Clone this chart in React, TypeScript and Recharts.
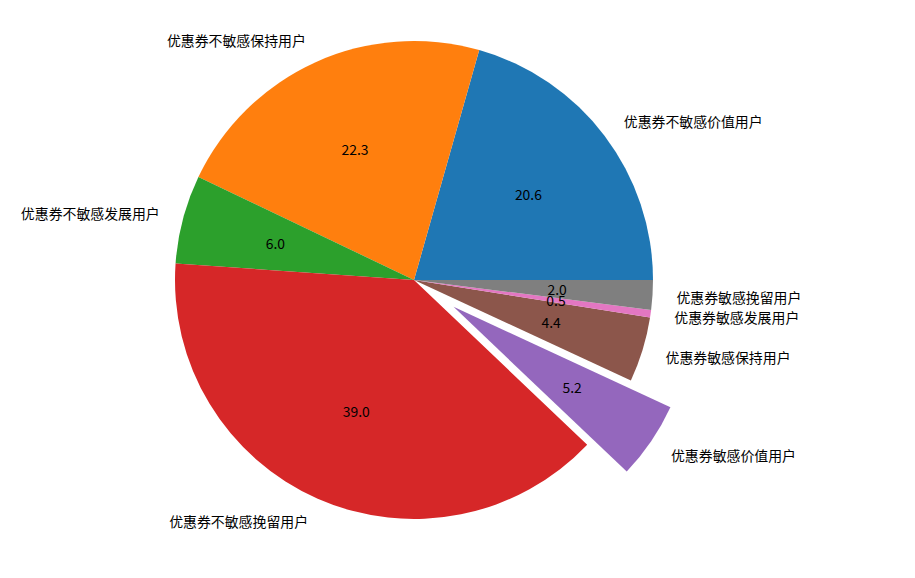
import React from "react";
import { PieChart, Pie, Cell } from "recharts";

const NAMES = [
  "优惠券不敏感价值用户",
  "优惠券不敏感保持用户",
  "优惠券不敏感发展用户",
  "优惠券不敏感挽留用户",
  "优惠券敏感价值用户",
  "优惠券敏感保持用户",
  "优惠券敏感发展用户",
  "优惠券敏感挽留用户",
];

const VALUES = [20.6, 22.3, 6.0, 39.0, 5.2, 4.4, 0.5, 2.0];

const EXPLODE = [0, 0, 0, 0, 0.2, 0, 0, 0];

const COLORS = [
  "#1f77b4",
  "#ff7f0e",
  "#2ca02c",
  "#d62728",
  "#9467bd",
  "#8c564b",
  "#e377c2",
  "#7f7f7f",
];

const data = NAMES.map((name, i) => ({ name, value: VALUES[i] }));

const RADIAN = Math.PI / 180;
const CX = 414;
const CY = 280;
const R = 239;
const FONT = "'Noto Sans CJK SC', 'Noto Sans', sans-serif";

// index of the pulled-out slice and its offset along the slice's mid angle
const EXP_INDEX = EXPLODE.findIndex((e) => e > 0);
const total = VALUES.reduce((a, b) => a + b, 0);
const before = VALUES.slice(0, EXP_INDEX).reduce((a, b) => a + b, 0);
const expMid = ((before + VALUES[EXP_INDEX] / 2) / total) * 360;
const expDx = EXPLODE[EXP_INDEX] * R * Math.cos(expMid * RADIAN);
const expDy = -EXPLODE[EXP_INDEX] * R * Math.sin(expMid * RADIAN);

const makeLabel = (show: (i: number) => boolean) => (props: any) => {
  const { cx, cy, midAngle, outerRadius, index, value } = props;
  if (!show(index)) return null;
  const cos = Math.cos(-midAngle * RADIAN);
  const sin = Math.sin(-midAngle * RADIAN);
  const lx = cx + outerRadius * 1.1 * cos;
  const ly = cy + outerRadius * 1.1 * sin;
  const px = cx + outerRadius * 0.6 * cos;
  const py = cy + outerRadius * 0.6 * sin;
  return (
    <g>
      <text
        x={lx}
        y={ly}
        textAnchor={cos >= 0 ? "start" : "end"}
        dominantBaseline="central"
        fontSize={13.9}
        fontFamily={FONT}
        fill="#000"
      >
        {NAMES[index]}
      </text>
      <text
        x={px}
        y={py}
        textAnchor="middle"
        dominantBaseline="central"
        fontSize={13.9}
        fontFamily={FONT}
        fill="#000"
      >
        {Number(value).toFixed(1)}
      </text>
    </g>
  );
};

export default function App() {
  return (
    <div style={{ position: "absolute", left: 0, top: 0 }}>
      <PieChart
        width={915}
        height={578}
        margin={{ top: 0, right: 0, bottom: 0, left: 0 }}
      >
        <Pie
          data={data}
          dataKey="value"
          cx={CX}
          cy={CY}
          outerRadius={R}
          startAngle={0}
          endAngle={360}
          stroke="none"
          labelLine={false}
          label={makeLabel((i) => i !== EXP_INDEX)}
          isAnimationActive={false}
        >
          {data.map((d, i) => (
            <Cell
              key={`cell-${i}`}
              fill={i === EXP_INDEX ? "none" : COLORS[i]}
            />
          ))}
        </Pie>
        <Pie
          data={data}
          dataKey="value"
          cx={CX + expDx}
          cy={CY + expDy}
          outerRadius={R}
          startAngle={0}
          endAngle={360}
          stroke="none"
          labelLine={false}
          label={makeLabel((i) => i === EXP_INDEX)}
          isAnimationActive={false}
        >
          {data.map((d, i) => (
            <Cell
              key={`cell-exp-${i}`}
              fill={i === EXP_INDEX ? COLORS[i] : "none"}
            />
          ))}
        </Pie>
      </PieChart>
    </div>
  );
}
